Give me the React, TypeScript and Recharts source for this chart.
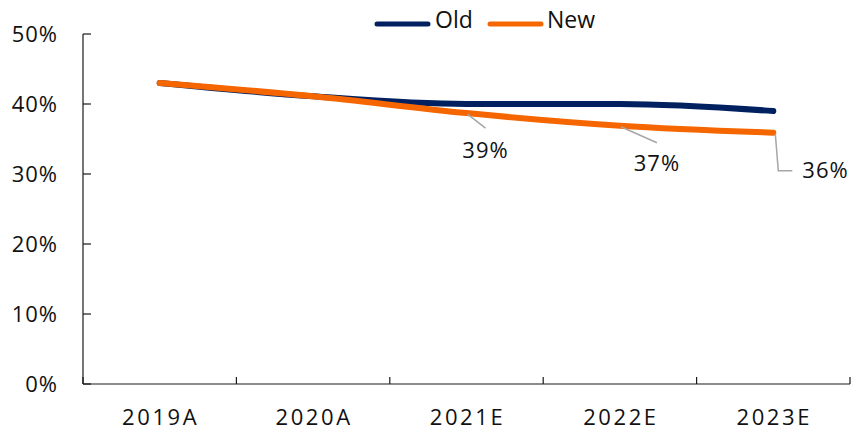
import { LabelList, Legend, Line, LineChart, XAxis, YAxis } from "recharts";

const years = ["2019A", "2020A", "2021E", "2022E", "2023E"];
const oldShare = [43.0, 41.1, 40.0, 40.0, 39.0];
const newShare = [43.0, 41.1, 38.7, 36.9, 35.9];
const newLabels = ["", "", "39%", "37%", "36%"];
const yTicks = [0, 10, 20, 30, 40, 50];

const data = years.map((y, i) => ({ year: y, old: oldShare[i], next: newShare[i], lbl: newLabels[i] }));

const NAVY = "#002060";
const ORANGE = "#F56600";
const INK = "#111";
const AXIS = "#1a1a1a";
const LEADER = "#a6a6a6";
const FONT = "'Open Sans', 'DejaVu Sans', sans-serif";

function LeaderLabel(props: any) {
  const { x, y, index, value } = props;
  if (!value) return null;
  if (index === 4) {
    return (
      <g>
        <polyline points={`${x + 2},${y + 1} ${x + 5},${y + 38} ${x + 19},${y + 38}`} fill="none" stroke={LEADER} strokeWidth={1.5} />
        <text x={x + 29} y={y + 45} fontSize={22} fontFamily={FONT} fill={INK} letterSpacing={1}>{value}</text>
      </g>
    );
  }
  const dx = index === 2 ? 19 : 37;
  const dy = index === 2 ? 15 : 17;
  return (
    <g>
      <line x1={x + 1} y1={y + 1} x2={x + dx} y2={y + dy} stroke={LEADER} strokeWidth={1.5} />
      <text x={x + dx} y={y + 45} textAnchor="middle" fontSize={22} fontFamily={FONT} fill={INK} letterSpacing={1}>{value}</text>
    </g>
  );
}

function XTick(props: any) {
  const { x, y, payload, index } = props;
  const half = payload.offset || 0;
  return (
    <g>
      <line x1={x - half} y1={y} x2={x - half} y2={y - 7} stroke={AXIS} strokeWidth={1.2} />
      {index === years.length - 1 && (
        <line x1={x + half} y1={y} x2={x + half} y2={y - 7} stroke={AXIS} strokeWidth={1.2} />
      )}
      <text x={x + 1} y={y + 41} textAnchor="middle" fontSize={22} fontFamily={FONT} fill={INK} letterSpacing={2.6}>
        {payload.value}
      </text>
    </g>
  );
}

function YTick(props: any) {
  const { x, y, payload } = props;
  return (
    <g>
      <line x1={x} y1={y} x2={x + 8} y2={y} stroke={AXIS} strokeWidth={1.2} />
      <text x={x - 25} y={y + 8} textAnchor="end" fontSize={22} fontFamily={FONT} fill={INK} letterSpacing={1}>
        {`${payload.value}%`}
      </text>
    </g>
  );
}

function LegendBox() {
  return (
    <svg width={260} height={36}>
      <line x1={5} y1={24} x2={56} y2={24} stroke={NAVY} strokeWidth={5} strokeLinecap="round" />
      <text x={63} y={28} fontSize={23} fontFamily={FONT} fill={INK}>Old</text>
      <line x1={118} y1={24} x2={169} y2={24} stroke={ORANGE} strokeWidth={5} strokeLinecap="round" />
      <text x={175} y={28} fontSize={23} fontFamily={FONT} fill={INK}>New</text>
    </svg>
  );
}

export default function App() {
  return (
    <div style={{ position: "absolute", left: 0, top: 0, background: "#fff" }}>
      <LineChart width={860} height={432} data={data} margin={{ top: 34, right: 10, bottom: 8, left: 0 }}>
        <XAxis
          dataKey="year"
          scale="band"
          axisLine={{ stroke: AXIS, strokeWidth: 1.2 }}
          tickLine={false}
          tickSize={0}
          tickMargin={0}
          height={40}
          interval={0}
          tick={<XTick />}
        />
        <YAxis
          domain={[0, 50]}
          ticks={yTicks}
          width={83}
          axisLine={{ stroke: AXIS, strokeWidth: 1.2 }}
          tickLine={false}
          tickSize={0}
          tickMargin={0}
          tick={<YTick />}
        />
        <Legend verticalAlign="middle" layout="horizontal" content={<LegendBox />} wrapperStyle={{ top: 0, left: 372, width: 260 }} />
        <Line type="monotone" dataKey="old" stroke={NAVY} strokeWidth={6} dot={false} strokeLinecap="round" isAnimationActive={false} />
        <Line type="monotone" dataKey="next" stroke={ORANGE} strokeWidth={6} dot={false} strokeLinecap="round" isAnimationActive={false}>
          <LabelList dataKey="lbl" content={<LeaderLabel />} />
        </Line>
      </LineChart>
    </div>
  );
}
